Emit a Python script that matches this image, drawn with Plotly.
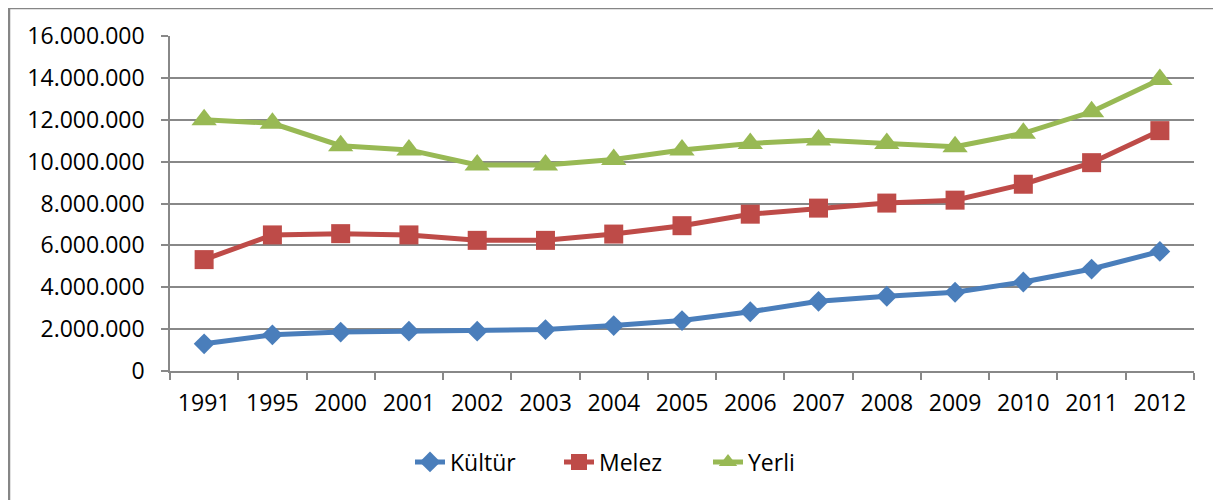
import plotly.graph_objects as go

years = ["1991", "1995", "2000", "2001", "2002", "2003", "2004", "2005",
         "2006", "2007", "2008", "2009", "2010", "2011", "2012"]
kultur = [1300000, 1730000, 1860000, 1900000, 1900000, 1980000, 2170000, 2410000,
          2830000, 3330000, 3570000, 3760000, 4250000, 4870000, 5710000]
melez = [5320000, 6500000, 6560000, 6500000, 6240000, 6240000, 6540000, 6940000,
         7490000, 7780000, 8020000, 8160000, 8920000, 9950000, 11480000]
yerli = [12000000, 11830000, 10760000, 10560000, 9840000, 9840000, 10100000, 10560000,
         10870000, 11030000, 10870000, 10710000, 11350000, 12380000, 13920000]
yticks = [0, 2000000, 4000000, 6000000, 8000000, 10000000, 12000000, 14000000, 16000000]

series = [
    ("Kültür", kultur, "#4A7EBB", "diamond", 16),
    ("Melez", melez, "#BE4B48", "square", 19),
    ("Yerli", yerli, "#98B954", "triangle-up", 22),
]

fig = go.Figure()
for name, vals, color, sym, size in series:
    fig.add_trace(go.Scatter(
        x=years, y=vals, name=name, mode="lines+markers",
        line=dict(color=color, width=5),
        marker=dict(symbol=sym, size=size, color=color, line=dict(width=0)),
    ))

# page body has an 8px margin, so figure coordinates are offset by 8px
grid = "#888888"
L, T, B, R = 162, 28, 129, 27
W, H = 1213, 492
pw, ph = W - L - R, H - T - B
fig.update_layout(
    width=W, height=H,
    margin=dict(l=L, r=R, t=T, b=B),
    paper_bgcolor="white", plot_bgcolor="white",
    separators=",.",
    font=dict(family="Open Sans", size=23, color="#000000"),
    showlegend=True,
    legend=dict(orientation="h", x=(402 - L) / pw, y=-91 / ph, xanchor="left", yanchor="middle",
                font=dict(size=23), entrywidth=104, entrywidthmode="pixels",
                traceorder="normal"),
    xaxis=dict(type="category", range=[-0.5, 14.5], showgrid=False,
               showline=True, linecolor=grid, linewidth=1.5,
               ticks="outside", tickson="boundaries", ticklen=7, tickcolor=grid,
               tickwidth=1.5, ticklabelstandoff=11, fixedrange=True),
    yaxis=dict(range=[0, 16000000], tickvals=yticks, tickformat=",d",
               showgrid=True, gridcolor=grid, gridwidth=1.5,
               showline=True, linecolor=grid, linewidth=1.5,
               ticks="outside", ticklen=7, tickcolor=grid, tickwidth=1.5,
               ticklabelstandoff=12, zeroline=False),
    shapes=[dict(type="rect", xref="paper", yref="paper",
                 x0=(1 - L) / pw, x1=1.2, y0=-0.6, y1=(H - B - 0) / ph,
                 line=dict(color="#868686", width=2.5), layer="below")],
)

fig.write_html("out.html")
